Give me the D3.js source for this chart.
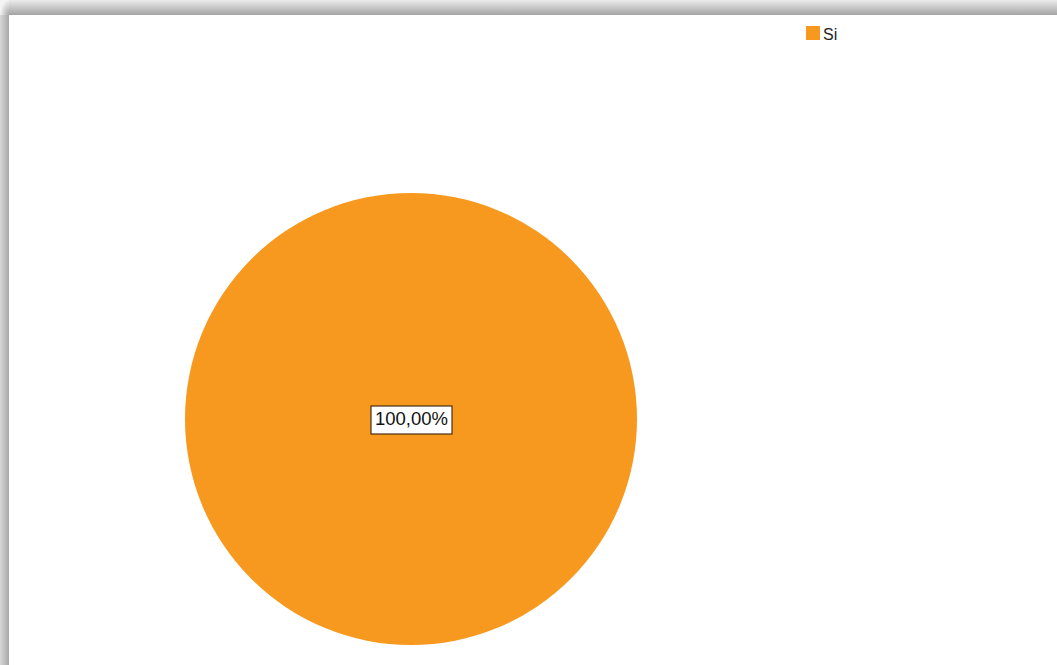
<!DOCTYPE html>
<html>
<head>
<meta charset="utf-8">
<script src="https://cdn.jsdelivr.net/npm/d3@7"></script>
<style>
html,body{margin:0;padding:0;background:#fff;}
svg{display:block;}
</style>
</head>
<body>
<svg id="chart" width="1057" height="665"></svg>
<script>
const categories = ["Si"];
const values = [100];
const labels = ["100,00%"];
const colors = ["#F7991E"];

const svg = d3.select("#chart");
const W = 1057, H = 665;

// frame shadow
const defs = svg.append("defs");
const gTop = defs.append("linearGradient").attr("id","gTop").attr("x1",0).attr("y1",0).attr("x2",0).attr("y2",1);
gTop.append("stop").attr("offset","0%").attr("stop-color","#ececec");
gTop.append("stop").attr("offset","100%").attr("stop-color","#a4a4a4");
const gLeft = defs.append("linearGradient").attr("id","gLeft").attr("x1",0).attr("y1",0).attr("x2",1).attr("y2",0);
gLeft.append("stop").attr("offset","0%").attr("stop-color","#d8d8d8");
gLeft.append("stop").attr("offset","100%").attr("stop-color","#a8a8a8");
const gCorner = defs.append("radialGradient").attr("id","gCorner").attr("cx",1).attr("cy",1).attr("r",1);
gCorner.append("stop").attr("offset","0%").attr("stop-color","#a8a8a8");
gCorner.append("stop").attr("offset","100%").attr("stop-color","#f4f4f4");

svg.append("rect").attr("x",9).attr("y",0).attr("width",W-9).attr("height",15).attr("fill","url(#gTop)");
svg.append("rect").attr("x",0).attr("y",15).attr("width",9).attr("height",H-15).attr("fill","url(#gLeft)");
svg.append("rect").attr("x",0).attr("y",0).attr("width",9).attr("height",15).attr("fill","url(#gCorner)");

// pie
const cx = 411, cy = 419, r = 226;
const pie = d3.pie().sort(null).value(d => d.v);
const arc = d3.arc().innerRadius(0).outerRadius(r);
const data = categories.map((c,i)=>({c, v: values[i], label: labels[i], color: colors[i]}));
const g = svg.append("g").attr("transform",`translate(${cx},${cy})`);
g.selectAll("path").data(pie(data)).join("path")
  .attr("d", arc).attr("fill", d => d.data.color);

// label
const lg = g.selectAll("g.lbl").data(pie(data)).join("g").attr("class","lbl")
  .attr("transform", d => {
    const a = (d.endAngle - d.startAngle) >= 2*Math.PI - 1e-6 ? [0,0] : d3.arc().innerRadius(r*0.6).outerRadius(r*0.6).centroid(d);
    return `translate(${a[0]},${a[1]})`;
  });
lg.append("rect").attr("x",-40).attr("y",-13).attr("width",81).attr("height",28)
  .attr("fill","#fff").attr("stroke","#4a3010").attr("stroke-width",1.2);
lg.append("text").attr("x",0.5).attr("y",1.5).attr("text-anchor","middle").attr("dominant-baseline","middle")
  .attr("font-family","Liberation Sans, Arial, sans-serif").attr("font-size",18.5).attr("fill","#111")
  .text(d => d.data.label);

// legend
const leg = svg.append("g").attr("transform","translate(806,26)");
const li = leg.selectAll("g").data(data).join("g").attr("transform",(d,i)=>`translate(0,${i*20})`);
li.append("rect").attr("width",14).attr("height",14).attr("fill",d=>d.color);
li.append("text").attr("x",17).attr("y",14).attr("font-family","Liberation Sans, Arial, sans-serif")
  .attr("font-size",16).attr("fill","#222").text(d=>d.c);
</script>
</body>
</html>
